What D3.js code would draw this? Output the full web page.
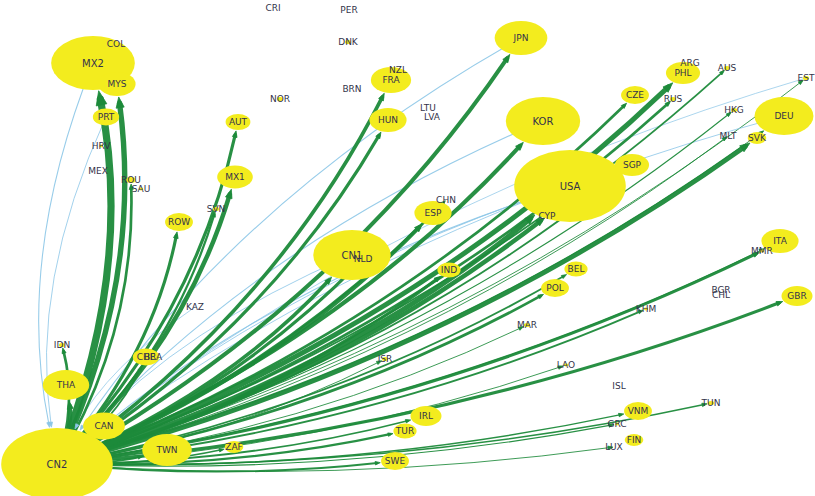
<!DOCTYPE html>
<html>
<head>
<meta charset="utf-8">
<script src="https://cdn.jsdelivr.net/npm/d3@7"></script>
<style>
  html, body { margin: 0; padding: 0; background: #ffffff; }
  svg { display: block; }
  text { font-family: "DejaVu Sans", "Noto Sans", sans-serif; }
</style>
</head>
<body>
<svg id="chart" width="815" height="496"></svg>
<script>
// ---------------- DATA ----------------
// Node names, layout coordinates (layout space 0..815 x 0..496) and node weights
const nodeNames = ["CN2","MX2","MYS","COL","PRT","HRV","MEX","ROU","SAU","ROW","SVN","MX1","AUT","NOR","CRI","PER","DNK","NZL","FRA","BRN","HUN","LTU","LVA","JPN","KOR","USA","SGP","CZE","ARG","PHL","RUS","AUS","EST","HKG","DEU","MLT","SVK","ITA","MMR","BGR","CHL","GBR","KHM","MAR","LAO","ISL","TUN","VNM","GRC","FIN","LUX","BEL","POL","IND","CN1","NLD","ESP","CHN","CYP","ISR","IRL","TUR","SWE","ZAF","TWN","CAN","THA","IDN","CHE","BRA","KAZ"];
const nodeX = [57,93,117,116,106,101,98,131,141,179,216,235,238,280,273,349,348,398,391,352,388,428,432,521,543,570,632,635,690,683,673,727,806,734,784,728,757,780,762,721,721,797,646,527,566,619,711,638,617,634,614,576,555,449,352,363,433,446,547,385,426,405,395,234,167,104,66,62,146,153,195];
const nodeY = [464,63,84,44,117,146,171,180,189,222,209,177,122,99,8,10,42,70,80,89,120,108,117,38,121,186,165,95,63,73,99,68,78,110,116,136,138,241,251,290,295,296,309,325,365,386,403,411,424,440,447,269,288,270,255,259,213,200,216,359,416,431,461,447,450,426,385,345,357,357,307];
const nodeWeight = [1296,729,144,0,72,2,0,9,2,81,4,132,64,4,0,0,4,0,169,0,144,0,0,289,576,1296,121,81,0,121,4,4,4,4,361,0,36,144,2,0,0,100,2,4,2,0,4,81,2,36,0,56,81,56,625,0,144,0,2,4,100,56,81,36,256,182,225,4,72,0,0];

// Flows out of CN2 (green) : target and flow weight
const exportTargets = ["MX2","MYS","ROU","THA","IDN","ROW","MX1","SVN","AUT","FRA","HUN","JPN","KOR","CN1","NLD","CHN","ESP","USA","CYP","CZE","PHL","RUS","AUS","SGP","HKG","MLT","SVK","EST","DEU","ITA","MMR","BEL","POL","IND","KHM","MAR","GBR","LAO","TUN","VNM","GRC","LUX","IRL","TUR","SWE","ZAF","ISR","CHE","TWN","CAN"];
const exportWeights = [80,60,30,45,30,35,50,25,35,40,35,45,45,40,35,30,45,55,50,30,55,30,20,20,12,10,55,10,10,10,35,20,30,35,20,10,35,10,18,15,12,10,20,25,22,15,10,20,20,20];

// Flows into CN2 (blue) : source and flow weight
const importSources = ["MX2","PRT","JPN","KOR","USA","DEU","SGP","CN1","KAZ","EST"];
const importWeights = [12,10,12,12,12,10,10,10,8,8];

// ---------------- CHART ----------------
const W = 815, H = 496;
const svg = d3.select("#chart");

const x = d3.scaleLinear().domain([0, 815]).range([0, W]);
const y = d3.scaleLinear().domain([0, 496]).range([0, H]);
const rScale = d3.scaleSqrt().domain([0, 1296]).range([0, 36]);
const wScale = d3.scaleLinear().domain([0, 100]).range([0, 9]);
const aspect = 1.55; // nodes drawn as ellipses (stretched layout)

const nodes = nodeNames.map((n, i) => {
  const r = rScale(nodeWeight[i]);
  return { id: n, cx: x(nodeX[i]), cy: y(nodeY[i]), ry: r, rx: r * aspect };
});
const byId = new Map(nodes.map(d => [d.id, d]));

const GREEN = "#1c8a3a", BLUE = "#8cc6e7", YELLOW = "#f3ec1e";

const edges = [];
exportTargets.forEach((t, i) => edges.push({ s: "CN2", t: t, w: exportWeights[i], c: GREEN }));
importSources.forEach((s, i) => edges.push({ s: s, t: "CN2", w: importWeights[i], c: BLUE }));

function ellipseRadius(node, ux, uy) {
  if (node.rx <= 0) return 0;
  return 1 / Math.sqrt((ux / node.rx) ** 2 + (uy / node.ry) ** 2);
}

const gEdges = svg.append("g");
const gArrows = svg.append("g");

// draw thin edges first, thick on top
edges.sort((a, b) => a.w - b.w);

edges.forEach(e => {
  const S = byId.get(e.s), T = byId.get(e.t);
  const dx = T.cx - S.cx, dy = T.cy - S.cy;
  const L = Math.hypot(dx, dy);
  const sin = Math.abs(dy) / L;
  const h = L * (0.05 + 0.1 * sin);
  // perpendicular to the right of travel direction
  const px = -dy / L, py = dx / L;
  const C = { x: (S.cx + T.cx) / 2 + px * h, y: (S.cy + T.cy) / 2 + py * h };
  // end tangent
  let ux = T.cx - C.x, uy = T.cy - C.y;
  const ul = Math.hypot(ux, uy); ux /= ul; uy /= ul;
  const rad = ellipseRadius(T, ux, uy);
  const E = { x: T.cx - ux * (rad + 1), y: T.cy - uy * (rad + 1) };
  const width = Math.max(0.8, wScale(e.w));
  const aLen = Math.max(5, width * 2.0);
  const aWid = Math.max(3.5, width * 1.5);
  const lineEnd = { x: E.x - ux * aLen * 0.6, y: E.y - uy * aLen * 0.6 };
  const p = d3.path();
  p.moveTo(S.cx, S.cy);
  p.quadraticCurveTo(C.x, C.y, lineEnd.x, lineEnd.y);
  gEdges.append("path")
    .attr("d", p.toString())
    .attr("fill", "none")
    .attr("stroke", e.c)
    .attr("stroke-width", width)
    .attr("stroke-linecap", "round")
    .attr("stroke-opacity", e.c === GREEN ? 0.95 : 0.9);
  // arrow head
  const bx = E.x - ux * aLen, by = E.y - uy * aLen;
  const nx = -uy, ny = ux;
  const ap = d3.path();
  ap.moveTo(E.x, E.y);
  ap.lineTo(bx + nx * aWid / 2, by + ny * aWid / 2);
  ap.lineTo(bx - nx * aWid / 2, by - ny * aWid / 2);
  ap.closePath();
  gArrows.append("path")
    .attr("d", ap.toString())
    .attr("fill", e.c)
    .attr("stroke", e.c)
    .attr("stroke-width", 0.8)
    .attr("stroke-linejoin", "round");
});

// nodes
svg.append("g").selectAll("ellipse")
  .data(nodes.filter(d => d.ry > 0))
  .join("ellipse")
  .attr("cx", d => d.cx)
  .attr("cy", d => d.cy)
  .attr("rx", d => d.rx)
  .attr("ry", d => d.ry)
  .attr("fill", YELLOW);

// labels
svg.append("g").selectAll("text")
  .data(nodes)
  .join("text")
  .attr("x", d => d.cx)
  .attr("y", d => d.cy)
  .attr("text-anchor", "middle")
  .attr("dominant-baseline", "central")
  .attr("font-size", d => d.ry > 20 ? 10 : 9)
  .attr("fill", "#33334a")
  .text(d => d.id);
</script>
</body>
</html>
